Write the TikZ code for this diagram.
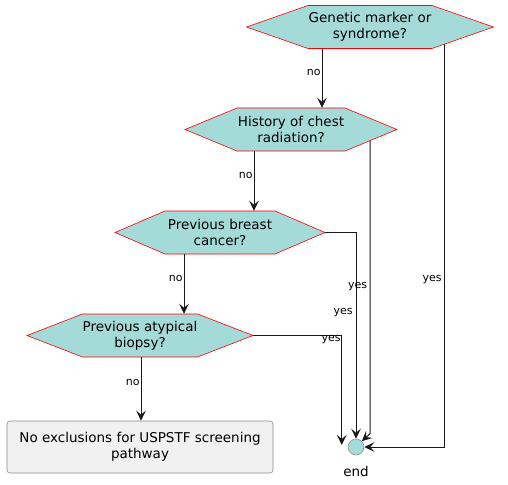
\documentclass[tikz,border=0pt]{standalone}
\usepackage{fontspec}
\setmainfont{DejaVu Sans}
\usetikzlibrary{arrows.meta,backgrounds}

\definecolor{hexfill}{HTML}{A4DBD8}
\definecolor{boxfill}{HTML}{F1F1F1}
\definecolor{linecol}{HTML}{181818}
\definecolor{boxline}{HTML}{8A8A8A}

% name, centre x, centre y, half flat side, half width, text
\newcommand{\decision}[6]{%
    \filldraw[hexline] (#2-#4,#3-21.5) -- (#2+#4,#3-21.5) -- (#2+#5,#3) -- (#2+#4,#3+21.5) -- (#2-#4,#3+21.5) -- (#2-#5,#3) -- cycle;
    \node[hextext] (#1) at (#2,#3) {#6};
    \coordinate (#1-e) at (#2+#5,#3);
}

\begin{document}
\begin{tikzpicture}[x=1pt,y=-1pt,
    every node/.style={font=\fontsize{13.5pt}{16pt}\selectfont},
    hexline/.style={draw=red,line width=0.6pt,fill=hexfill},
    hextext/.style={align=center,inner sep=0pt,minimum height=43pt},
    finalbox/.style={draw=boxline,fill=boxfill,line width=0.6pt,rounded corners=3pt,align=center,minimum width=266pt,minimum height=52pt},
    endcircle/.style={circle,draw=boxline,fill=hexfill,line width=0.5pt,minimum size=16pt,inner sep=0pt},
    flow/.style={draw=linecol,line width=1pt,-{Stealth[length=10pt,width=9.5pt,inset=4pt]}},
    answer/.style={font=\fontsize{11pt}{13pt}\selectfont,inner sep=1pt}]
    \useasboundingbox (0,0) rectangle (508,484);

    \decision{genetic}{370}{27}{62}{123.5}{Genetic marker or\\syndrome?}
    \decision{chest}{291}{129.5}{54}{106}{History of chest\\radiation?}
    \decision{breast}{220}{232.5}{55}{105}{Previous breast\\cancer?}
    \decision{atypical}{140}{335.5}{57.5}{113}{Previous atypical\\biopsy?}

    \node[finalbox] (noexcl) at (140,447) {No exclusions for USPSTF screening\\pathway};
    \node[endcircle] (end) at (356,447) {};
    \node (endlabel) at (356,471) {end};
    \coordinate (endleft) at ([xshift=-6pt,yshift=2pt]end.west);

    \draw[flow] ([xshift=-48pt]genetic.south) -- ([xshift=31pt]chest.north) node[answer,pos=0.4,left] (no1) {no};
    \draw[flow] ([xshift=-37pt]chest.south) -- ([xshift=34pt]breast.north) node[answer,pos=0.4,left] (no2) {no};
    \draw[flow] ([xshift=-36pt]breast.south) -- ([xshift=44pt]atypical.north) node[answer,pos=0.4,left] (no3) {no};
    \draw[flow] ([xshift=1pt]atypical.south) -- ([xshift=1pt]noexcl.north) node[answer,pos=0.4,left] (no4) {no};

    \begin{scope}[on background layer]
        \draw[flow] ([xshift=74pt]genetic.center) |- (end.east);
        \draw[flow] ([xshift=79pt]chest.center) -- ([xshift=79pt,yshift=5pt]chest.center |- end.north) -- (end.north east);
        \draw[flow] (breast-e) -| (end.north);
        \draw[flow] (atypical-e) -| (endleft);
    \end{scope}

    \node[answer] (yes1) at (432,280) {yes};
    \node[answer] (yes2) at (343,313) {yes};
    \node[answer] (yes3) at (357.5,287) {yes};
    \node[answer] (yes4) at (331,340) {yes};
\end{tikzpicture}
\end{document}
